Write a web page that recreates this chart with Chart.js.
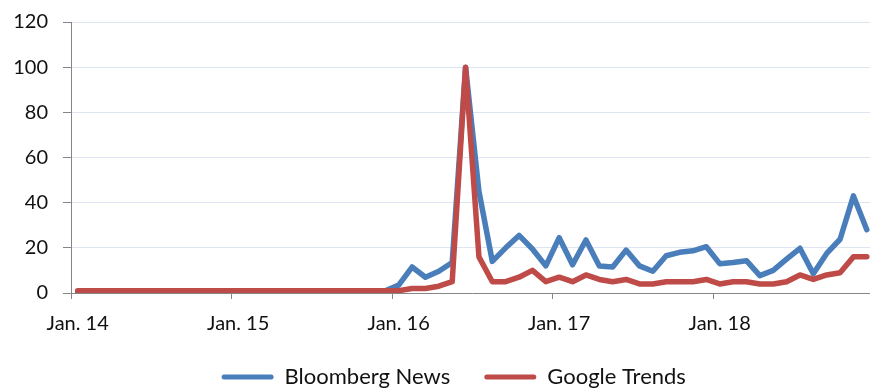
<!DOCTYPE html>
<html>
<head>
<meta charset="utf-8">
<script src="https://cdn.jsdelivr.net/npm/chart.js@4/dist/chart.umd.min.js"></script>
<style>
  html, body { margin: 0; padding: 0; background: #fff; overflow: hidden; }
  #wrap { width: 870px; height: 390px; overflow: hidden; position: relative; }
  canvas { display: block; }
</style>
</head>
<body>
<div id="wrap"><canvas id="chart" width="880" height="398"></canvas></div>
<script>
// Monthly categories, Jan 2014 – Dec 2018
const months = [
  'Jan. 14','Feb. 14','Mar. 14','Apr. 14','May 14','Jun. 14','Jul. 14','Aug. 14','Sep. 14','Oct. 14','Nov. 14','Dec. 14',
  'Jan. 15','Feb. 15','Mar. 15','Apr. 15','May 15','Jun. 15','Jul. 15','Aug. 15','Sep. 15','Oct. 15','Nov. 15','Dec. 15',
  'Jan. 16','Feb. 16','Mar. 16','Apr. 16','May 16','Jun. 16','Jul. 16','Aug. 16','Sep. 16','Oct. 16','Nov. 16','Dec. 16',
  'Jan. 17','Feb. 17','Mar. 17','Apr. 17','May 17','Jun. 17','Jul. 17','Aug. 17','Sep. 17','Oct. 17','Nov. 17','Dec. 17',
  'Jan. 18','Feb. 18','Mar. 18','Apr. 18','May 18','Jun. 18','Jul. 18','Aug. 18','Sep. 18','Oct. 18','Nov. 18','Dec. 18'
];

// Only these categories carry a visible axis label and tick mark
const tickLabels = ['Jan. 14', 'Jan. 15', 'Jan. 16', 'Jan. 17', 'Jan. 18'];

const bloomberg = [
  0, 0, 0, 0, 0, 0, 0, 0, 0, 0, 0, 0,
  0, 0, 0, 0, 0, 0, 0, 0, 0.5, 0.5, 0.5, 1,
  3.5, 11.5, 7, 9.6, 13.5, 100, 45, 14, 20, 25.5, 19.5, 12,
  24.5, 12.5, 23.5, 12, 11.5, 19, 12, 9.6, 16.5, 18, 18.7, 20.5,
  13, 13.5, 14.3, 7.7, 10, 15, 19.8, 8.5, 17.5, 23.8, 43, 28
];

const google = [
  1, 1, 1, 1, 1, 1, 1, 1, 1, 1, 1, 1,
  1, 1, 1, 1, 1, 1, 1, 1, 1, 1, 1, 1,
  1, 2, 2, 3, 5, 100, 16, 5, 5, 7, 10, 5,
  7, 5, 8, 6, 5, 6, 4, 4, 5, 5, 5, 6,
  4, 5, 5, 4, 4, 5, 8, 6, 8, 9, 16, 16
];

const yMin = 0, yMax = 120, yStep = 20;

const BLUE = '#4A7EBB';
const RED = '#BE4B48';
const AXIS = '#868686';
const GRID = '#DCE5F1';
const TEXT = '#111111';

Chart.defaults.font.family = 'Lato';
Chart.defaults.font.size = 20;
Chart.defaults.color = TEXT;

// Nudge the bottom legend sideways after layout
const legendOffset = {
  id: 'legendOffset',
  afterLayout(chart, args, opts) {
    const lg = chart.legend;
    if (lg) { lg.left += opts.dx; lg.right += opts.dx; }
  }
};

new Chart(document.getElementById('chart'), {
  type: 'line',
  data: {
    labels: months,
    datasets: [
      {
        label: 'Bloomberg News',
        data: bloomberg,
        borderColor: BLUE,
        backgroundColor: BLUE,
        borderWidth: 5.5,
        pointRadius: 0,
        tension: 0,
        borderCapStyle: 'round',
        borderJoinStyle: 'round',
        fill: false,
        order: 1
      },
      {
        label: 'Google Trends',
        data: google,
        borderColor: RED,
        backgroundColor: RED,
        borderWidth: 5.5,
        pointRadius: 0,
        tension: 0,
        borderCapStyle: 'round',
        borderJoinStyle: 'round',
        fill: false,
        order: 0
      }
    ]
  },
  plugins: [legendOffset],
  options: {
    responsive: false,
    devicePixelRatio: 1,
    animation: false,
    layout: { padding: { top: 22, left: 0, right: 6.5, bottom: 0 } },
    plugins: {
      tooltip: { enabled: false },
      legendOffset: { dx: 17 },
      legend: {
        position: 'bottom',
        labels: {
          boxWidth: 52,
          boxHeight: 5,
          useBorderRadius: true,
          borderRadius: 2.5,
          padding: 34,
          color: TEXT,
          font: { size: 22 },
          generateLabels(chart) {
            const items = Chart.defaults.plugins.legend.labels.generateLabels(chart);
            return items
              .map(it => Object.assign(it, {
                fillStyle: chart.data.datasets[it.datasetIndex].borderColor,
                lineWidth: 0
              }))
              .sort((a, b) => a.datasetIndex - b.datasetIndex);
          }
        }
      }
    },
    scales: {
      x: {
        offset: true,
        grid: {
          offset: true,
          drawOnChartArea: false,
          drawTicks: true,
          tickLength: 6,
          lineWidth: 1,
          tickColor: ctx => (ctx.tick && tickLabels.includes(ctx.tick.label)) ? AXIS : 'rgba(0,0,0,0)',
          color: ctx => (ctx.tick && tickLabels.includes(ctx.tick.label)) ? AXIS : 'rgba(0,0,0,0)'
        },
        border: { color: AXIS, width: 1 },
        ticks: {
          autoSkip: false,
          maxRotation: 0,
          minRotation: 0,
          padding: 13,
          color: TEXT,
          font: { size: 20 },
          callback(value, index) {
            const lab = months[index];
            return tickLabels.includes(lab) ? lab : '';
          }
        },
        afterFit(scale) { scale.height = 39; }
      },
      y: {
        min: yMin,
        max: yMax,
        grid: {
          color: GRID,
          lineWidth: 1,
          tickColor: AXIS,
          tickLength: 8
        },
        border: { color: AXIS, width: 1 },
        ticks: {
          stepSize: yStep,
          padding: 15,
          color: TEXT,
          font: { size: 20 }
        },
        afterFit(scale) {
          scale.width = 71;
          scale.paddingTop = 0;
          scale.paddingBottom = 0;
        }
      }
    }
  }
});
</script>
</body>
</html>
